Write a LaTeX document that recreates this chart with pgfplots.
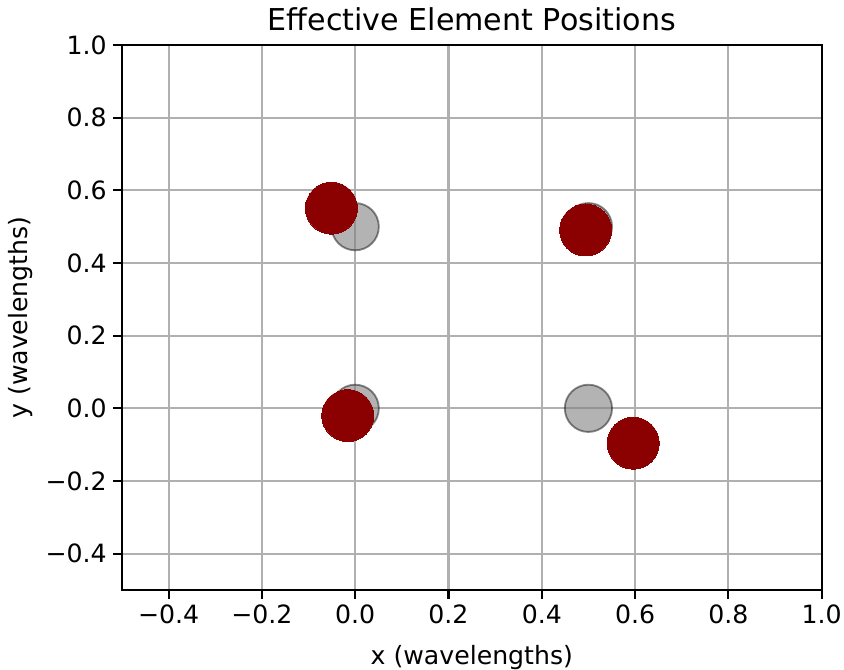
\documentclass[border=0pt]{standalone}
\usepackage{fontspec}
\setmainfont{DejaVu Sans}
\usepackage{pgfplots}
\pgfplotsset{compat=1.18}
\definecolor{darkred}{HTML}{8B0000}
\definecolor{gridc}{HTML}{B0B0B0}
\begin{document}
\begin{tikzpicture}
\useasboundingbox (-66.6bp,-43.7bp) rectangle (394.2bp,322.1bp);
\begin{axis}[
  at={(0,0)}, anchor=south west,
  scale only axis, width=382bp, height=297.5bp,
  xmin=-0.5, xmax=1.0, ymin=-0.5, ymax=1.0,
  xtick={-0.4,-0.2,0,0.2,0.4,0.6,0.8,1.0},
  ytick={-0.4,-0.2,0,0.2,0.4,0.6,0.8,1.0},
  xticklabels={−0.4,−0.2,0.0,0.2,0.4,0.6,0.8,1.0},
  yticklabels={−0.4,−0.2,0.0,0.2,0.4,0.6,0.8,1.0},
  tick label style={font=\fontsize{13.8}{16}\selectfont},
  label style={font=\fontsize{13.8}{16}\selectfont},
  title style={font=\fontsize{16.5}{19}\selectfont, yshift=-2bp},
  title={Effective Element Positions},
  xlabel={x (wavelengths)}, ylabel={y (wavelengths)},
  xlabel style={yshift=-4.5bp},
  ylabel style={yshift=0bp},
  grid=major, major grid style={gridc, line width=1.1bp},
  axis line style={line width=1.1bp},
  tick style={black, line width=1.1bp},
  tick align=outside, major tick length=4.8bp,
  xtick pos=bottom, ytick pos=left,
  clip=false,
]
\addplot[only marks, mark=*, mark size=12.9bp,
  mark options={fill=gray, fill opacity=0.6, draw=black, draw opacity=0.45, line width=1bp}]
  coordinates {(0,0.5) (0.5,0.5) (0,0) (0.5,0)};
\addplot[only marks, mark=*, mark size=14.2bp,
  mark options={fill=darkred, draw=darkred, line width=0bp}]
  coordinates {(-0.051,0.551) (0.494,0.491) (-0.016,-0.020) (0.596,-0.096)};
\end{axis}
\end{tikzpicture}
\end{document}
